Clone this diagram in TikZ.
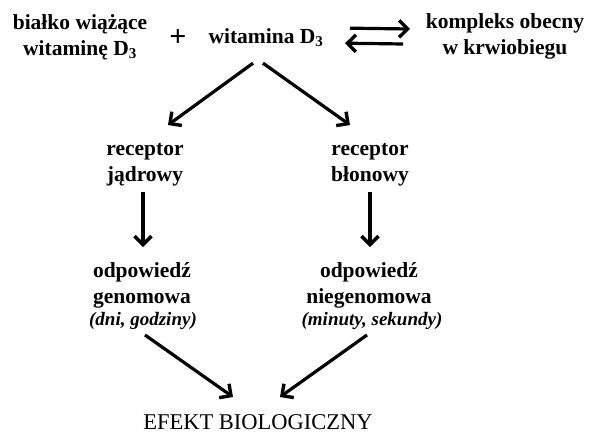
\documentclass[tikz,border=0pt]{standalone}
\usepackage{fontspec}
\setmainfont{Liberation Serif}
\usetikzlibrary{arrows.meta}

\begin{document}
\begin{tikzpicture}[x=1pt,y=-1pt,
  every node/.style={font=\fontsize{21.5}{26}\selectfont\bfseries,align=center,inner sep=0pt},
  note/.style={font=\fontsize{19}{22}\selectfont\bfseries\itshape,anchor=base},
  arr/.style={-{Straight Barb[length=8.5pt,width=17pt,line width=3.4pt]},line width=3.2pt}]
\useasboundingbox (0,0) rectangle (590,434);
\node (bialko) at (80,37) {białko wiążące\\witaminę D\textsubscript{3}};
\node[font=\fontsize{30}{30}\selectfont\bfseries] (plus) at (178,38) {+};
\node[anchor=base] (wit) at (266,43) {witamina D\textsubscript{3}};
\node (kompleks) at (505,36) {kompleks obecny\\w krwiobiegu};
\node (recj) at (145,165) {receptor\\jądrowy};
\node (recb) at (370,165) {receptor\\błonowy};
\node (odpg) at (142,285) {odpowiedź\\genomowa};
\node[note] (czasg) at (143,325) {(dni, godziny)};
\node (odpn) at (369,285) {odpowiedź\\niegenomowa};
\node[note] (czasn) at (372,325) {(minuty, sekundy)};
\node[font=\fontsize{22.5}{26}\selectfont,anchor=base] (efekt) at (258,429) {EFEKT BIOLOGICZNY};
% rownowaga
\draw[arr] ([shift={(84,-9)}]wit.center) -- ([shift={(-95,-7)}]kompleks.center);
\draw[arr] ([shift={(-102,8)}]kompleks.center) -- ([shift={(79,6)}]wit.center);
% receptory
\draw[arr] ([shift={(-13,26)}]wit.center) -- ([shift={(23,-40)}]recj.center);
\draw[arr] ([shift={(-3,26)}]wit.center) -- ([shift={(-20,-40)}]recb.center);
\draw[arr] ([shift={(-2,27)}]recj.center) -- ([shift={(1,-38)}]odpg.center);
\draw[arr] ([shift={(0,27)}]recb.center) -- ([shift={(1,-38)}]odpn.center);
% efekt
\draw[arr] ([shift={(2,10)}]czasg.base) -- ([shift={(-25,-32)}]efekt.base);
\draw[arr] ([shift={(-5,10)}]czasn.base) -- ([shift={(22,-32)}]efekt.base);
\end{tikzpicture}
\end{document}
